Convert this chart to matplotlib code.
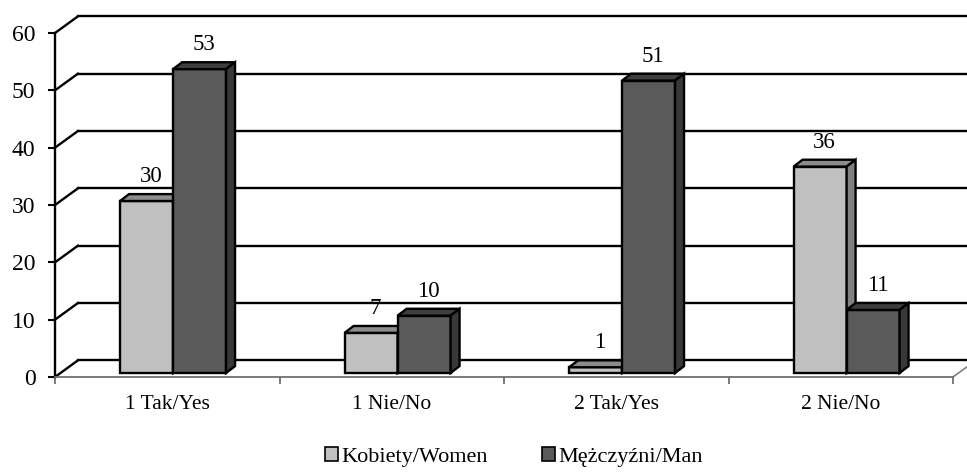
import matplotlib.pyplot as plt
from matplotlib.patches import Polygon, Patch

plt.rcParams['font.family'] = ['Liberation Serif', 'DejaVu Serif']

categories = ['1 Tak/Yes', '1 Nie/No', '2 Tak/Yes', '2 Nie/No']
women = [30, 7, 1, 36]
men = [53, 10, 51, 11]
series_names = ['Kobiety/Women', 'Mężczyźni/Man']
yticks = [0, 10, 20, 30, 40, 50, 60]

# colours: front, top, side
women_col = ('#c0c0c0', '#8c8c8c', '#808080')
men_col = ('#5a5a5a', '#3e3e3e', '#383838')

# fake 3d offsets (data units)
wall_dx, wall_dy = 0.102, 2.9
bar_dx, bar_dy = 0.04, 1.2
base = 0.7
width = 0.236
start = 0.29

fig = plt.figure(figsize=(9.67, 4.75), dpi=100)
ax = fig.add_axes([55 / 967, 1 - 377 / 475, 898 / 967, 344 / 475])
ax.set_xlim(0, 4)
ax.set_ylim(0, 60)

# back wall gridlines + side wall diagonals
for y in yticks:
    ax.plot([wall_dx, 4 + wall_dx + 0.2], [y + wall_dy, y + wall_dy],
            color='black', lw=1.7, clip_on=False, zorder=1)
    ax.plot([0, wall_dx], [y, y + wall_dy], color='black', lw=1.7,
            clip_on=False, zorder=1)
# floor right edge
ax.plot([4, 4 + wall_dx], [0, wall_dy], color='#808080', lw=1.2,
        clip_on=False, zorder=1)


def draw_bar(x0, h, cols):
    ax.bar(x0, h, width, bottom=base, align='edge', color=cols[0],
           edgecolor='black', lw=1.7, zorder=3, clip_on=False)
    top = base + h
    ax.add_patch(Polygon([(x0, top), (x0 + bar_dx, top + bar_dy),
                          (x0 + width + bar_dx, top + bar_dy), (x0 + width, top)],
                         closed=True, facecolor=cols[1], edgecolor='black',
                         lw=1.7, zorder=3, clip_on=False))
    ax.add_patch(Polygon([(x0 + width, base), (x0 + width, top),
                          (x0 + width + bar_dx, top + bar_dy),
                          (x0 + width + bar_dx, base + bar_dy)],
                         closed=True, facecolor=cols[2], edgecolor='black',
                         lw=1.7, zorder=3, clip_on=False))


for i, (w, m) in enumerate(zip(women, men)):
    xw = i + start
    xm = i + start + width
    draw_bar(xw, w, women_col)
    draw_bar(xm, m, men_col)
    for x0, v in ((xw, w), (xm, m)):
        ax.annotate(str(v), (x0 + width / 2 + 0.02, base + v + bar_dy),
                    xytext=(0, 5), textcoords='offset points',
                    ha='center', va='bottom', fontsize=16.5, zorder=5)

# axes
for s in ('top', 'right'):
    ax.spines[s].set_visible(False)
ax.spines['left'].set_linewidth(1.7)
ax.spines['bottom'].set_color('#707070')
ax.spines['bottom'].set_linewidth(1.3)

ax.set_yticks(yticks)
ax.tick_params(axis='y', length=5, width=1.5, pad=9, labelsize=17)
ax.set_xticks([0.5, 1.5, 2.5, 3.5])
ax.set_xticklabels(categories)
ax.set_xticks([0, 1, 2, 3, 4], minor=True)
ax.tick_params(axis='x', which='major', length=0, pad=13, labelsize=15.5)
ax.tick_params(axis='x', which='minor', length=5, width=1.3, color='#707070')

handles = [Patch(facecolor=women_col[0], edgecolor='black', lw=1.2),
           Patch(facecolor=men_col[0], edgecolor='black', lw=1.2)]
fig.legend(handles, series_names, loc='center', bbox_to_anchor=(514 / 967, 1 - 457 / 475),
           ncol=2, frameon=False, fontsize=16, handlelength=0.6, handleheight=0.6,
           handletextpad=0.15, columnspacing=2.4)

fig.savefig('out.png', dpi=100)
